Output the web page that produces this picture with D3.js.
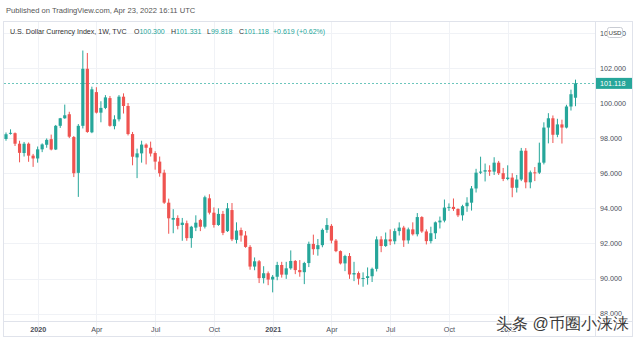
<!DOCTYPE html>
<html>
<head>
<meta charset="utf-8">
<script src="https://cdn.jsdelivr.net/npm/d3@7"></script>
<style>
  html, body { margin: 0; padding: 0; background: #fff; }
  svg { display: block; }
  text { font-family: "Liberation Sans", Arial, sans-serif; }
</style>
</head>
<body>
<svg id="chart" width="639" height="340"></svg>
<script>
// U.S. Dollar Currency Index (TVC:DXY), weekly candles, Nov 2019 – Apr 2022
const weeks = [
  "2019-11-18","2019-11-25","2019-12-02","2019-12-09","2019-12-16","2019-12-23","2019-12-30",
  "2020-01-06","2020-01-13","2020-01-20","2020-01-27","2020-02-03","2020-02-10","2020-02-17","2020-02-24",
  "2020-03-02","2020-03-09","2020-03-16","2020-03-23","2020-03-30","2020-04-06","2020-04-13","2020-04-20","2020-04-27",
  "2020-05-04","2020-05-11","2020-05-18","2020-05-25","2020-06-01","2020-06-08","2020-06-15","2020-06-22","2020-06-29",
  "2020-07-06","2020-07-13","2020-07-20","2020-07-27","2020-08-03","2020-08-10","2020-08-17","2020-08-24","2020-08-31",
  "2020-09-07","2020-09-14","2020-09-21","2020-09-28","2020-10-05","2020-10-12","2020-10-19","2020-10-26",
  "2020-11-02","2020-11-09","2020-11-16","2020-11-23","2020-11-30","2020-12-07","2020-12-14","2020-12-21","2020-12-28",
  "2021-01-04","2021-01-11","2021-01-18","2021-01-25","2021-02-01","2021-02-08","2021-02-15","2021-02-22",
  "2021-03-01","2021-03-08","2021-03-15","2021-03-22","2021-03-29","2021-04-05","2021-04-12","2021-04-19","2021-04-26",
  "2021-05-03","2021-05-10","2021-05-17","2021-05-24","2021-05-31","2021-06-07","2021-06-14","2021-06-21","2021-06-28",
  "2021-07-05","2021-07-12","2021-07-19","2021-07-26","2021-08-02","2021-08-09","2021-08-16","2021-08-23","2021-08-30",
  "2021-09-06","2021-09-13","2021-09-20","2021-09-27","2021-10-04","2021-10-11","2021-10-18","2021-10-25",
  "2021-11-01","2021-11-08","2021-11-15","2021-11-22","2021-11-29","2021-12-06","2021-12-13","2021-12-20","2021-12-27",
  "2022-01-03","2022-01-10","2022-01-17","2022-01-24","2022-01-31","2022-02-07","2022-02-14","2022-02-21","2022-02-28",
  "2022-03-07","2022-03-14","2022-03-21","2022-03-28","2022-04-04","2022-04-11","2022-04-18"
];

const openV = [
  97.95,98.25,98.28,97.68,97.15,97.68,97.00,
  96.84,97.36,97.62,97.94,97.35,98.70,99.13,99.36,
  98.06,96.02,98.70,101.95,98.33,100.62,99.45,99.72,100.28,
  98.68,99.07,100.36,99.83,98.23,96.90,97.13,97.63,97.45,
  97.15,96.66,96.03,94.32,93.35,93.45,93.05,93.15,92.30,
  92.90,93.33,92.95,94.57,93.75,93.05,93.68,92.70,
  93.90,92.20,92.76,92.45,91.80,90.68,90.98,90.02,90.30,
  89.94,90.10,90.77,90.22,90.58,91.00,90.48,90.36,
  90.88,91.97,91.67,91.90,92.77,93.00,92.16,91.56,90.86,
  91.28,90.23,90.31,89.99,90.03,90.13,90.55,92.23,91.85,
  92.23,92.12,92.70,92.90,92.17,92.80,92.52,93.50,92.68,
  92.13,92.58,93.20,93.30,94.04,94.08,93.96,93.60,
  94.12,94.32,95.13,96.03,96.09,96.17,96.09,96.60,96.00,
  95.67,95.75,95.17,95.64,97.28,95.48,96.05,96.03,96.60,
  98.60,99.13,98.19,98.78,98.60,99.80,100.30
];
const highV = [
  98.32,98.50,98.32,97.85,97.78,97.75,97.10,
  97.52,97.70,97.98,98.20,98.75,99.15,99.91,99.50,
  98.12,98.80,102.99,102.85,100.93,100.90,100.10,100.45,100.40,
  99.30,100.45,100.55,100.00,98.35,97.40,97.85,97.70,97.80,
  97.25,96.95,96.20,94.55,93.95,93.60,93.45,93.30,93.00,
  93.60,93.40,94.72,94.80,94.05,94.00,93.85,94.30,
  94.30,93.20,92.90,92.70,91.90,91.20,91.05,90.70,90.40,
  90.20,90.95,90.95,90.95,91.60,91.05,91.05,90.95,
  92.10,92.50,92.25,92.85,93.44,93.10,92.25,91.60,91.35,
  91.45,90.95,90.40,90.35,90.63,90.62,92.40,92.41,92.62,
  92.80,92.85,93.20,93.00,92.90,93.20,93.73,93.55,92.80,
  92.95,93.25,93.53,94.50,94.28,94.56,94.00,94.20,
  94.63,95.27,96.25,96.94,96.55,96.45,96.91,96.70,96.30,
  96.45,96.00,95.90,97.44,97.43,96.15,96.35,97.74,98.90,
  99.42,99.29,99.10,99.05,99.90,100.76,101.331
];
const lowV = [
  97.85,98.20,97.55,96.62,96.95,96.65,96.36,
  96.60,97.20,97.45,97.30,97.32,98.58,99.10,98.00,
  95.78,94.65,98.55,98.30,98.28,99.40,98.90,99.65,98.65,
  98.50,98.95,99.40,98.15,96.45,95.72,96.60,96.50,96.95,
  96.20,95.80,94.25,92.55,92.58,92.80,92.15,92.15,91.75,
  92.70,92.70,92.85,93.65,92.90,93.00,92.47,92.65,
  92.13,92.00,92.10,91.75,90.50,90.47,89.74,89.72,89.62,
  89.21,89.90,90.05,89.98,90.50,90.25,90.10,89.68,
  90.65,91.35,91.30,91.78,92.60,92.00,91.50,90.80,90.42,
  89.98,89.85,89.65,89.53,89.65,89.80,90.40,91.50,91.80,
  91.90,91.95,92.45,91.80,91.98,92.45,92.40,92.60,91.94,
  92.00,92.25,92.85,93.20,93.85,93.85,93.50,93.30,
  93.80,93.87,94.90,95.95,95.53,95.85,95.90,95.90,95.55,
  95.60,94.63,94.90,95.55,95.14,95.14,95.55,95.95,96.50,
  97.70,97.72,98.05,97.69,98.55,99.57,99.818
];
const closeV = [
  98.22,98.30,97.68,97.16,97.68,97.00,96.84,
  97.36,97.64,97.90,97.35,98.70,99.13,99.30,98.08,
  96.00,98.70,101.95,98.35,100.78,99.45,99.72,100.32,98.70,
  99.07,100.36,99.83,98.23,96.94,97.13,97.63,97.45,97.12,
  96.66,96.00,94.32,93.43,93.45,93.00,93.18,92.30,92.95,
  93.18,92.95,94.63,93.75,93.05,93.68,92.60,94.00,
  92.23,92.73,92.45,91.80,90.68,90.98,90.02,90.30,89.94,
  90.10,90.77,90.22,90.58,91.00,90.48,90.36,90.88,
  91.97,91.67,91.90,92.77,93.05,92.16,91.56,90.86,91.28,
  90.23,90.31,89.99,90.03,90.13,90.55,92.23,91.85,92.23,
  92.12,92.70,92.90,92.17,92.80,92.52,93.50,92.68,92.13,
  92.58,93.20,93.30,94.04,94.08,93.96,93.60,94.12,
  94.32,95.13,96.03,96.09,96.17,96.09,96.60,96.00,95.67,
  95.75,95.17,95.64,97.28,95.48,96.05,96.03,96.60,98.60,
  99.13,98.19,98.78,98.60,99.80,100.50,101.118
];

// axis tick values
const priceTicks = [88, 90, 92, 94, 96, 98, 100, 102, 104];
const timeTicks = ["2020-01-06","2020-04-06","2020-07-06","2020-10-05","2021-01-04","2021-04-05","2021-07-05","2021-10-04","2022-01-03"];
const timeTickLabels = ["2020","Apr","Jul","Oct","2021","Apr","Jul","Oct","2022"];

const lastPrice = 101.118;
const headerText = "Published on TradingView.com, Apr 23, 2022 16:11 UTC";
const seriesTitle = "U.S. Dollar Currency Index, 1W, TVC";
const ohlcLegend = [["O","100.300"],["H","101.331"],["L","99.818"],["C","101.118"]];
const changeText = "+0.619 (+0.62%)";
const watermark = "头条 @币圈小涞涞";

const UP = "#26a69a", DOWN = "#ef5350", GRID = "#f0f2f6", BORDER = "#e0e3eb", TEXT = "#4a4e59";

const parse = d3.utcParse("%Y-%m-%d");
const bars = weeks.map((w, i) => ({
  date: parse(w), o: openV[i], h: highV[i], l: lowV[i], c: closeV[i]
}));

const svg = d3.select("#chart");

// pane geometry
const pane = { left: 4, right: 595, top: 22, bottom: 321 };
const frame = { left: 3.5, right: 632.5, top: 21.5, bottom: 336.5 };

const x = d3.scaleUtc()
  .domain([parse(weeks[0]), parse(weeks[weeks.length - 1])])
  .range([6, 575.5]);
const y = d3.scaleLinear().domain([88, 102]).range([313.6, 67.9]);

// header
svg.append("text").attr("x", 6).attr("y", 13)
  .attr("font-size", 7.6).attr("fill", "#555").text(headerText);

// frame and separators
svg.append("rect")
  .attr("x", frame.left).attr("y", frame.top)
  .attr("width", frame.right - frame.left).attr("height", frame.bottom - frame.top)
  .attr("fill", "none").attr("stroke", BORDER);

svg.append("defs").append("clipPath").attr("id", "pane")
  .append("rect").attr("x", pane.left).attr("y", pane.top)
  .attr("width", pane.right - pane.left).attr("height", pane.bottom - pane.top);

const grid = svg.append("g").attr("clip-path", "url(#pane)");
grid.selectAll("line.h").data(priceTicks).join("line")
  .attr("x1", pane.left).attr("x2", pane.right)
  .attr("y1", d => Math.round(y(d)) + 0.5).attr("y2", d => Math.round(y(d)) + 0.5)
  .attr("stroke", GRID);
svg.append("g").selectAll("line").data(timeTicks).join("line")
  .attr("x1", d => Math.round(x(parse(d))) + 0.5).attr("x2", d => Math.round(x(parse(d))) + 0.5)
  .attr("y1", pane.top).attr("y2", frame.bottom)
  .attr("stroke", GRID);

svg.append("line").attr("x1", pane.right + 0.5).attr("x2", pane.right + 0.5)
  .attr("y1", frame.top).attr("y2", frame.bottom).attr("stroke", BORDER);
svg.append("line").attr("x1", frame.left).attr("x2", frame.right)
  .attr("y1", pane.bottom + 0.5).attr("y2", pane.bottom + 0.5).attr("stroke", BORDER);

// last price dotted line
svg.append("line")
  .attr("x1", pane.left).attr("x2", pane.right)
  .attr("y1", Math.round(y(lastPrice)) + 0.5).attr("y2", Math.round(y(lastPrice)) + 0.5)
  .attr("stroke", "#6cc6bc")
  .attr("stroke-dasharray", "2,2").attr("stroke-width", 1);

// candles
const candles = svg.append("g").attr("clip-path", "url(#pane)");
const bw = 3.2;
const g = candles.selectAll("g").data(bars).join("g");
g.append("line")
  .attr("x1", d => x(d.date)).attr("x2", d => x(d.date))
  .attr("y1", d => y(d.h)).attr("y2", d => y(d.l))
  .attr("stroke", d => d.c >= d.o ? UP : DOWN).attr("stroke-width", 1);
g.append("rect")
  .attr("x", d => x(d.date) - bw / 2)
  .attr("y", d => y(Math.max(d.o, d.c)))
  .attr("width", bw)
  .attr("height", d => Math.max(1, Math.abs(y(d.o) - y(d.c))))
  .attr("fill", d => d.c >= d.o ? UP : DOWN);

// price axis
const yAxis = d3.axisRight(y).tickValues(priceTicks).tickFormat(d3.format(".3f")).tickSize(0).tickPadding(0);
const ya = svg.append("g").attr("transform", `translate(600,0)`).call(yAxis);
ya.select(".domain").remove();
ya.selectAll("text").attr("font-size", 7.2).attr("fill", TEXT)
  .attr("font-family", "\"Liberation Sans\", Arial, sans-serif");

// currency badge over the top label
svg.append("rect").attr("x", 607.5).attr("y", 27.5).attr("width", 15).attr("height", 10)
  .attr("rx", 2).attr("fill", "#fff").attr("stroke", "#c9ccd3");
svg.append("text").attr("x", 615).attr("y", 35).attr("text-anchor", "middle")
  .attr("font-size", 6.2).attr("fill", "#333").text("USD");

// last price badge
svg.append("rect").attr("x", 596).attr("y", y(lastPrice) - 5.5).attr("width", 36).attr("height", 11)
  .attr("fill", UP);
svg.append("text").attr("x", 600).attr("y", y(lastPrice) + 2.6)
  .attr("font-size", 7.2).attr("fill", "#fff").text(d3.format(".3f")(lastPrice));

// time axis
const xAxis = d3.axisBottom(x)
  .tickValues(timeTicks.map(parse))
  .tickFormat((d, i) => timeTickLabels[i])
  .tickSize(0).tickPadding(0);
const xa = svg.append("g").attr("transform", `translate(0,${pane.bottom + 6})`).call(xAxis);
xa.select(".domain").remove();
xa.selectAll("text").attr("font-size", 7.2).attr("fill", TEXT)
  .attr("font-family", "\"Liberation Sans\", Arial, sans-serif")
  .attr("font-weight", (d, i) => /^\d{4}$/.test(timeTickLabels[i]) ? "bold" : "normal");

// legend row: title, then O/H/L/C pairs and the change, each at its own slot
const legend = svg.append("g");
legend.append("text").attr("x", 10).attr("y", 34).attr("font-size", 7.1)
  .attr("fill", "#333").text(seriesTitle);
const slots = [134, 171, 207, 239];
ohlcLegend.forEach(([k, v], i) => {
  const t = legend.append("text").attr("x", slots[i]).attr("y", 34).attr("font-size", 7);
  t.append("tspan").attr("fill", "#333").text(k);
  t.append("tspan").attr("fill", UP).text(v);
});
legend.append("text").attr("x", 273).attr("y", 34).attr("font-size", 7)
  .attr("fill", UP).text(changeText);

// watermark
svg.append("text").attr("x", 496).attr("y", 329)
  .attr("font-family", "\"Noto Sans CJK SC\", sans-serif")
  .attr("font-size", 16).attr("fill", "#3a3a3a")
  .attr("stroke", "#fff").attr("stroke-width", 2).attr("paint-order", "stroke")
  .text(watermark);
</script>
</body>
</html>
